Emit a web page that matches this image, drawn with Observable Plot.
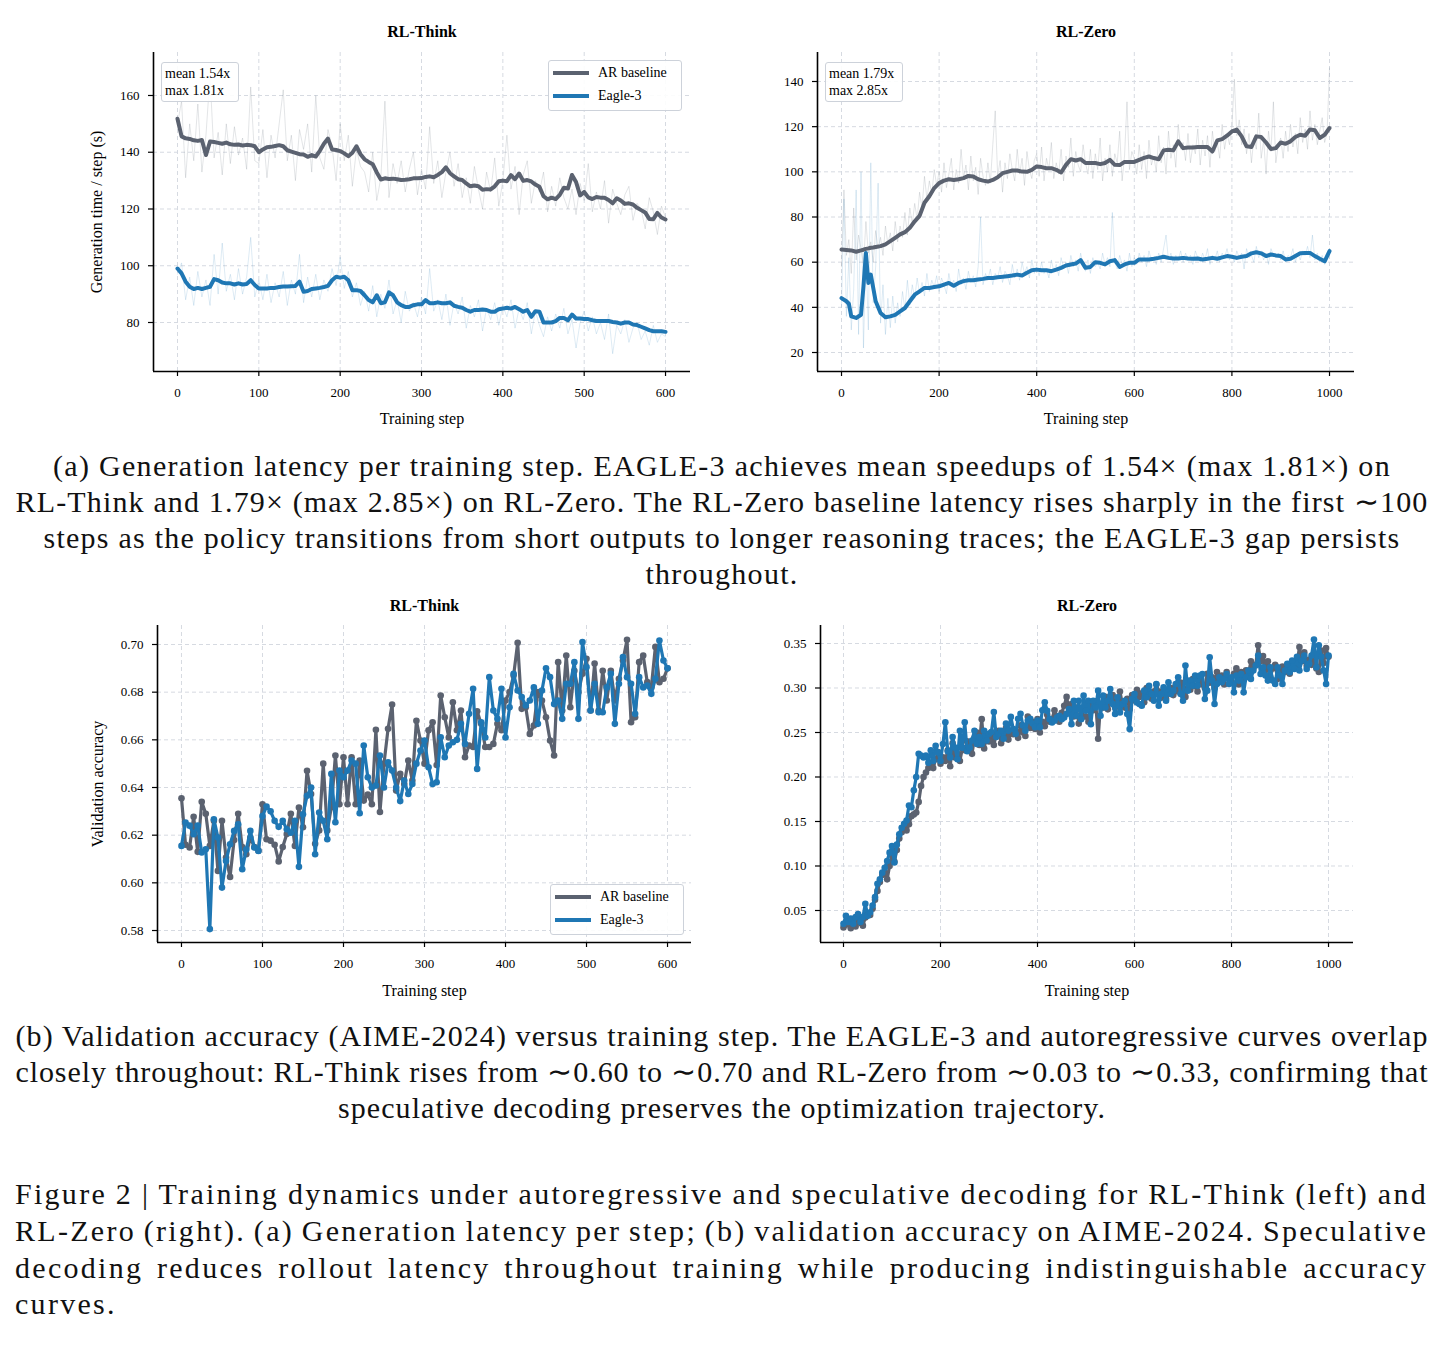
<!DOCTYPE html>
<html>
<head>
<meta charset="utf-8">
<script src="https://cdn.jsdelivr.net/npm/d3@7"></script>
<script src="https://cdn.jsdelivr.net/npm/@observablehq/plot@0.6"></script>
<style>
  body { margin: 0; background: #fff; }
  #page { position: relative; width: 1444px; height: 1347px; overflow: hidden; background: #fff; }
  .panel { position: absolute; }
  .box { position: absolute; border: 1px solid #cdd2da; border-radius: 3px; background: rgba(255,255,255,0.9);
         font-family: 'Liberation Serif', 'Times New Roman', serif; font-size: 14px; color: #000; box-sizing: border-box; }
  .box span { position: absolute; white-space: nowrap; line-height: 16px; }
  .cap { position: absolute; font-family: 'Liberation Serif', 'Times New Roman', serif; font-size: 30px;
         letter-spacing: 1.1px; line-height: 36px; white-space: nowrap; color: #111; }
  .cap span { display: inline-block; }
  .center { left: 0; width: 1444px; text-align: center; }
  .left { left: 15px; width: 1413px; text-align: left; }
</style>
</head>
<body>
<div id="page">
  <div id="latThink" class="panel" style="left:0;top:0"></div>
  <div id="latZero" class="panel" style="left:722px;top:0"></div>
  <div id="accThink" class="panel" style="left:0;top:590px"></div>
  <div id="accZero" class="panel" style="left:722px;top:590px"></div>

  <div class="cap center" style="top:448px"><span data-w="1338">(a) Generation latency per training step. EAGLE-3 achieves mean speedups of 1.54× (max 1.81×) on</span></div>
  <div class="cap center" style="top:484px"><span data-w="1413">RL-Think and 1.79× (max 2.85×) on RL-Zero. The RL-Zero baseline latency rises sharply in the first ∼100</span></div>
  <div class="cap center" style="top:520px"><span data-w="1357">steps as the policy transitions from short outputs to longer reasoning traces; the EAGLE-3 gap persists</span></div>
  <div class="cap center" style="top:556px"><span data-w="153">throughout.</span></div>

  <div class="cap center" style="top:1018px"><span data-w="1413">(b) Validation accuracy (AIME-2024) versus training step. The EAGLE-3 and autoregressive curves overlap</span></div>
  <div class="cap center" style="top:1054px"><span data-w="1413">closely throughout: RL-Think rises from ∼0.60 to ∼0.70 and RL-Zero from ∼0.03 to ∼0.33, confirming that</span></div>
  <div class="cap center" style="top:1090px"><span data-w="768">speculative decoding preserves the optimization trajectory.</span></div>

  <div class="cap left" style="top:1176px"><span data-w="1413">Figure 2 | Training dynamics under autoregressive and speculative decoding for RL-Think (left) and</span></div>
  <div class="cap left" style="top:1213px"><span data-w="1413">RL-Zero (right). (a) Generation latency per step; (b) validation accuracy on AIME-2024. Speculative</span></div>
  <div class="cap left" style="top:1250px"><span data-w="1413">decoding reduces rollout latency throughout training while producing indistinguishable accuracy</span></div>
  <div class="cap left" style="top:1286px"><span id="lastLine">curves.</span></div>
</div>

<script>
// ---------- series ----------
const seriesNames = ["AR baseline", "Eagle-3"];
const AR_COLOR = "#5b6270";
const EAGLE_COLOR = "#1f77b4";
const GRID_COLOR = "#d6dae1";

// RL-Think generation time per step (s), 5-step spacing
const thinkSteps = d3.range(0, 601, 5);
const thinkArRaw = [
  150, 158, 131, 150, 137, 157, 133, 146, 167, 138, 147, 132, 150, 136, 149, 139, 145, 134, 163, 137,
  136, 148, 131, 146, 138, 150, 162, 137, 146, 130, 148, 141, 150, 133, 160, 138, 134, 148, 142, 130,
  150, 137, 146, 128, 141, 135, 133, 126, 140, 123, 131, 158, 124, 136, 129, 137, 126, 134, 140, 125,
  134, 127, 149, 129, 137, 124, 133, 140, 128, 136, 124, 131, 122, 135, 127, 120, 133, 126, 138, 121,
  130, 146, 127, 135, 118, 132, 137, 122, 130, 126, 133, 119, 128, 121, 131, 124, 120, 127, 118, 129,
  123, 136, 119, 126, 120, 130, 115, 127, 122, 118, 125, 128, 116, 122, 120, 113, 124, 119, 111, 121, 117
];
const thinkEagleRaw = [
  97, 101, 88, 96, 86, 98, 89, 95, 86, 104, 90, 108, 91, 97, 88, 99, 90, 96, 110, 89,
  95, 88, 97, 87, 94, 89, 98, 86, 95, 90, 104, 87, 96, 89, 97, 88, 95, 91, 99, 93,
  103, 92, 98, 89, 94, 86, 91, 84, 93, 82, 90, 85, 95, 83, 88, 80, 91, 84, 87, 82,
  89, 83, 99, 84, 88, 81, 90, 79, 87, 83, 89, 78, 86, 82, 88, 77, 85, 81, 87, 79,
  86, 82, 88, 78, 85, 81, 87, 76, 84, 79, 75, 82, 77, 83, 78, 85, 76, 81, 71, 80,
  84, 77, 82, 76, 80, 74, 83, 69, 79, 76, 81, 73, 78, 80, 74, 77, 72, 79, 73, 76, 75
];
const thinkArSmooth = [
  151.8, 145.6, 144.9, 144.7, 144.2, 144.0, 144.3, 139.0, 143.8, 143.6,
  143.3, 143.0, 143.4, 142.8, 142.6, 142.7, 142.4, 142.6, 142.5, 142.1,
  140.0, 141.0, 141.8, 141.9, 142.2, 142.5, 142.1, 140.7, 140.2, 139.8,
  139.3, 139.2, 138.4, 139.0, 138.5, 140.5, 143.0, 144.8, 141.0, 140.8,
  140.4, 139.6, 138.6, 139.8, 142.1, 139.3, 137.5, 136.6, 135.8, 132.9,
  130.4, 130.8, 130.6, 130.7, 130.5, 130.2, 130.3, 130.5, 130.8, 130.8,
  130.9, 131.3, 131.5, 131.2, 132.0, 133.0, 134.7, 132.6, 131.5, 130.5,
  130.2, 129.0, 128.0, 128.3, 128.0, 126.8, 127.0, 126.9, 128.0, 129.8,
  130.0, 129.8, 131.9, 130.5, 132.5, 129.9, 130.2, 129.7, 128.6, 127.8,
  124.5, 123.4, 124.0, 123.5, 125.0, 127.5, 127.2, 132.0, 129.5, 124.8,
  126.0, 124.1, 123.5, 124.2, 124.0, 124.0, 123.2, 122.0, 123.8, 123.0,
  121.8, 122.0, 121.6, 120.4, 119.6, 118.8, 116.5, 116.4, 118.6, 117.0,
  116.3
];
const thinkEagleSmooth = [
  99.0, 97.3, 94.4, 92.6, 91.8, 92.2, 91.8, 92.2, 92.6, 95.3,
  94.9, 94.1, 93.8, 93.8, 93.4, 93.8, 93.4, 93.6, 94.9, 93.2,
  92.0, 92.0, 92.0, 92.2, 92.2, 92.5, 92.7, 92.7, 92.8, 92.9,
  94.4, 90.8, 91.1, 91.8, 92.0, 92.2, 92.5, 92.9, 94.9, 96.1,
  95.8, 96.1, 94.9, 91.4, 91.4, 91.1, 89.6, 87.9, 87.1, 89.6,
  86.8, 87.1, 90.6, 89.6, 87.1, 86.1, 85.5, 85.5, 86.1, 86.4,
  86.4, 87.9, 86.8, 86.8, 87.1, 86.8, 86.8, 87.1, 85.9, 85.5,
  85.2, 84.4, 83.8, 84.4, 84.4, 84.6, 84.4, 83.8, 83.8, 84.7,
  84.9, 85.2, 84.9, 85.5, 84.7, 83.8, 84.4, 82.0, 84.0, 83.8,
  80.0, 80.0, 80.0, 80.5, 81.6, 81.6, 80.8, 82.8, 81.4, 81.4,
  81.2, 81.2, 80.8, 80.5, 80.5, 80.5, 80.5, 80.2, 80.0, 79.6,
  80.0, 80.0, 79.3, 79.1, 78.5, 77.9, 77.3, 76.9, 76.9, 76.9,
  76.7
];

// RL-Zero generation time per step (s)
const zeroRawSteps = d3.range(0, 1001, 5);
const zeroArRaw = [
  58, 92, 63, 70, 55, 84, 61, 72, 66, 59, 78, 64, 69, 60, 74, 66, 71, 63, 76, 68,
  73, 65, 78, 69, 76, 71, 82, 72, 84, 77, 86, 79, 91, 84, 98, 88, 96, 90, 101, 94,
  100, 91, 104, 93, 99, 106, 92, 101, 95, 110, 97, 103, 92, 107, 96, 102, 90, 106, 98, 94,
  104, 95, 112, 127, 98, 105, 91, 104, 97, 108, 101, 96, 110, 99, 106, 94, 109, 101, 97, 105,
  108, 98, 111, 96, 106, 101, 113, 97, 104, 99, 110, 96, 107, 102, 115, 98, 109, 103, 100, 112,
  104, 99, 110, 97, 108, 101, 115, 96, 106, 100, 112, 98, 108, 104, 118, 96, 107, 131, 101, 109,
  106, 99, 112, 101, 109, 97, 114, 103, 107, 100, 116, 104, 111, 99, 118, 106, 112, 102, 121, 110,
  113, 105, 117, 104, 112, 108, 119, 103, 114, 107, 116, 102, 118, 109, 113, 106, 121, 110, 117, 112,
  120, 141, 116, 123, 112, 119, 108, 117, 104, 115, 110, 126, 106, 114, 99, 118, 109, 131, 104, 112,
  115, 106, 118, 109, 121, 111, 117, 108, 124, 113, 119, 110, 127, 114, 121, 112, 118, 124, 113, 117, 146
];
const zeroEagleRaw = [
  40, 88, 36, 62, 30, 48, 92, 28, 100, 22, 65, 30, 104, 42, 58, 95, 33, 50, 28, 44,
  31, 45, 33, 42, 36, 47, 39, 52, 41, 50, 44, 53, 46, 51, 45, 55, 47, 52, 49, 54,
  47, 53, 50, 46, 55, 49, 52, 47, 57, 50, 53, 48, 56, 51, 54, 49, 58, 80, 50, 55,
  52, 57, 50, 55, 53, 58, 51, 56, 54, 50, 59, 53, 57, 52, 60, 55, 58, 53, 61, 55,
  58, 54, 60, 55, 57, 53, 61, 56, 59, 54, 62, 57, 60, 55, 63, 58, 61, 56, 64, 59,
  56, 61, 55, 62, 58, 60, 57, 64, 59, 62, 58, 82, 60, 57, 63, 59, 61, 56, 64, 58,
  62, 59, 64, 60, 63, 58, 65, 61, 62, 59, 64, 60, 66, 72, 61, 64, 59, 63, 61, 65,
  60, 64, 61, 63, 59, 65, 62, 60, 64, 61, 66, 59, 63, 61, 65, 60, 64, 62, 66, 61,
  63, 60, 65, 62, 64, 57, 66, 62, 63, 60, 67, 62, 65, 61, 64, 59, 66, 63, 62, 64,
  61, 65, 60, 63, 62, 66, 60, 64, 61, 65, 63, 67, 62, 72, 61, 64, 60, 63, 59, 62, 66
];
const zeroSmoothSteps = [0, 10, 15, 20, 30, 40, 45, 50, 55, 60, 65, 70].concat(d3.range(80, 1001, 10));
const zeroArSmooth = [
  65.6, 65.4, 65.3, 65.2, 64.6, 65.2, 65.5, 65.9, 66.1, 66.4, 66.5, 66.7,
  67.1, 67.9, 69.3, 70.8, 72.3, 73.3, 75.2, 78.1, 80.5, 86.3,
  89.2, 92.8, 95.0, 96.1, 96.7, 96.4, 96.7, 97.2, 98.2, 97.9,
  96.7, 96.1, 95.7, 96.4, 97.6, 99.4, 100.0, 100.6, 100.6, 100.1,
  100.0, 100.9, 102.4, 102.1, 101.6, 101.6, 100.9, 99.7, 103.1, 105.6,
  105.0, 105.6, 103.9, 103.9, 103.9, 103.4, 103.9, 105.3, 103.1, 103.0,
  104.4, 104.4, 104.4, 105.3, 106.2, 106.8, 106.1, 105.6, 109.5, 109.8,
  109.5, 113.5, 110.5, 110.8, 110.8, 111.0, 111.0, 111.0, 109.0, 113.9,
  114.5, 116.0, 117.9, 118.7, 115.7, 111.3, 111.0, 115.7, 115.4, 113.0,
  110.1, 110.5, 113.0, 112.4, 113.5, 115.4, 116.4, 116.0, 118.7, 118.4,
  115.0, 116.4, 119.4
];
const zeroEagleSmooth = [
  44.1, 42.7, 41.6, 36.0, 35.3, 36.7, 49.3, 64.1, 50.8, 54.5, 48.6, 42.7,
  37.5, 35.6, 36.0, 36.7, 38.2, 39.7, 42.7, 45.6, 47.1, 48.6,
  48.6, 49.0, 49.3, 50.1, 50.8, 49.6, 50.8, 51.6, 52.0, 52.0,
  52.3, 52.6, 53.0, 53.0, 53.3, 53.5, 53.8, 54.1, 54.5, 54.1,
  55.3, 56.4, 56.7, 56.4, 56.4, 56.0, 56.7, 57.5, 58.5, 59.0,
  59.4, 60.9, 57.5, 57.9, 60.0, 59.7, 59.0, 60.4, 60.9, 57.9,
  59.0, 59.7, 59.7, 61.2, 61.2, 61.2, 61.5, 61.9, 62.4, 61.9,
  61.6, 61.6, 61.9, 61.6, 61.5, 61.6, 61.2, 61.5, 61.9, 61.5,
  62.1, 62.7, 62.4, 61.9, 62.4, 62.7, 63.9, 64.4, 63.9, 62.7,
  63.4, 63.0, 62.7, 61.2, 61.5, 62.7, 63.9, 64.1, 64.1, 62.7,
  61.5, 60.4, 64.9
];

// Validation accuracy (AIME-2024), every 5 steps
const thinkAccSteps = d3.range(0, 601, 5);
const thinkAccAr = [
  0.6355, 0.616, 0.6148, 0.6277, 0.613, 0.634, 0.629, 0.6155, 0.626, 0.605,
  0.626, 0.6106, 0.6025, 0.618, 0.629, 0.615, 0.612, 0.619, 0.615, 0.6135,
  0.633, 0.6183, 0.6177, 0.616, 0.609, 0.615, 0.6205, 0.629, 0.6155, 0.6316,
  0.6233, 0.647, 0.6373, 0.6164, 0.622, 0.650, 0.622, 0.6317, 0.6534, 0.633,
  0.6527, 0.633, 0.6527, 0.633, 0.6513, 0.6345, 0.637, 0.633, 0.6642, 0.6297,
  0.650, 0.6646, 0.6748, 0.6387, 0.6457, 0.6415, 0.6513, 0.6429, 0.668, 0.6597,
  0.650, 0.664, 0.6674, 0.6494, 0.6786, 0.6695, 0.661, 0.6758, 0.664, 0.6723,
  0.6527, 0.6576, 0.657, 0.672, 0.6667, 0.657, 0.657, 0.6583, 0.6667, 0.664,
  0.6765, 0.680, 0.687, 0.7007, 0.673, 0.6737, 0.6625, 0.666, 0.680, 0.6765,
  0.6695, 0.6597, 0.6534, 0.6926, 0.6723, 0.6954, 0.6737, 0.689, 0.680, 0.6877,
  0.694, 0.6723, 0.692, 0.6723, 0.689, 0.6765, 0.689, 0.6765, 0.6856, 0.6933,
  0.702, 0.6674, 0.6695, 0.6926, 0.6954, 0.6842, 0.682, 0.699, 0.6842, 0.6856,
  0.690
];
const thinkAccEagle = [
  0.6155, 0.6253, 0.624, 0.6204, 0.624, 0.6127, 0.6141, 0.5806, 0.6267, 0.619,
  0.598, 0.6092, 0.6162, 0.6218, 0.6246, 0.6057, 0.614, 0.6218, 0.6148, 0.6134,
  0.628, 0.632, 0.630, 0.626, 0.6235, 0.626, 0.6225, 0.621, 0.626, 0.6067,
  0.6288, 0.6365, 0.640, 0.612, 0.6295, 0.626, 0.6183, 0.6457, 0.6254, 0.6471,
  0.6443, 0.6471, 0.6513, 0.650, 0.6292, 0.6576, 0.6443, 0.640, 0.6408, 0.6534,
  0.640, 0.6506, 0.6471, 0.640, 0.6343, 0.6429, 0.6373, 0.6415, 0.650, 0.6555,
  0.6597, 0.6485, 0.6415, 0.6422, 0.6611, 0.6527, 0.6576, 0.659, 0.660, 0.6667,
  0.6583, 0.6709, 0.6814, 0.6478, 0.6674, 0.661, 0.6863, 0.6723, 0.6688, 0.6814,
  0.661, 0.6737, 0.6877, 0.6807, 0.678, 0.6744, 0.6765, 0.682, 0.6667, 0.6807,
  0.690, 0.6863, 0.675, 0.6765, 0.6688, 0.6835, 0.6835, 0.6926, 0.6688, 0.701,
  0.6905, 0.6723, 0.6835, 0.6716, 0.6716, 0.682, 0.6877, 0.6667, 0.6835, 0.6947,
  0.6863, 0.6835, 0.6709, 0.6863, 0.682, 0.6828, 0.6793, 0.6856, 0.7017, 0.6933,
  0.690
];
const zeroAccSteps = d3.range(0, 1001, 5);
const zeroAccAr = [
  0.031, 0.034, 0.036, 0.030, 0.038, 0.032, 0.040, 0.036, 0.033, 0.042,
  0.046, 0.045, 0.052, 0.062, 0.072, 0.082, 0.090, 0.093, 0.085, 0.100,
  0.112, 0.105, 0.118, 0.131, 0.138, 0.143, 0.140, 0.147, 0.156, 0.158,
  0.160, 0.172, 0.190, 0.200, 0.205, 0.210, 0.215, 0.210, 0.220, 0.228,
  0.215, 0.222, 0.218, 0.230, 0.212, 0.238, 0.222, 0.226, 0.218, 0.232,
  0.230, 0.240, 0.236, 0.226, 0.244, 0.250, 0.236, 0.265, 0.232, 0.245,
  0.240, 0.250, 0.236, 0.248, 0.252, 0.238, 0.246, 0.255, 0.242, 0.250,
  0.248, 0.252, 0.244, 0.258, 0.250, 0.246, 0.268, 0.255, 0.262, 0.254,
  0.265, 0.250, 0.262, 0.257, 0.270, 0.262, 0.265, 0.275, 0.268, 0.262,
  0.272, 0.280, 0.290, 0.275, 0.282, 0.268, 0.278, 0.260, 0.276, 0.268,
  0.268, 0.262, 0.280, 0.275, 0.285, 0.243, 0.282, 0.278, 0.290, 0.276,
  0.284, 0.292, 0.278, 0.285, 0.296, 0.282, 0.278, 0.288, 0.276, 0.292,
  0.286, 0.298, 0.290, 0.294, 0.284, 0.300, 0.292, 0.288, 0.296, 0.304,
  0.296, 0.289, 0.298, 0.288, 0.294, 0.300, 0.292, 0.302, 0.296, 0.306,
  0.300, 0.290, 0.308, 0.298, 0.310, 0.302, 0.296, 0.312, 0.304, 0.300,
  0.316, 0.306, 0.312, 0.300, 0.318, 0.308, 0.314, 0.304, 0.318, 0.310,
  0.306, 0.316, 0.322, 0.304, 0.318, 0.310, 0.320, 0.316, 0.330, 0.322,
  0.326, 0.348, 0.330, 0.336, 0.320, 0.330, 0.312, 0.322, 0.326, 0.310,
  0.320, 0.324, 0.318, 0.326, 0.316, 0.324, 0.330, 0.326, 0.346, 0.330,
  0.340, 0.325, 0.332, 0.326, 0.338, 0.322, 0.318, 0.342, 0.328, 0.345,
  0.335
];
const zeroAccEagle = [
  0.035, 0.044, 0.037, 0.041, 0.035, 0.0425, 0.046, 0.037, 0.0425, 0.0575,
  0.044, 0.048, 0.0556, 0.065, 0.080, 0.085, 0.0925, 0.098, 0.1056, 0.115,
  0.1225, 0.104, 0.124, 0.1355, 0.143, 0.1475, 0.151, 0.168, 0.166, 0.185,
  0.200, 0.226, 0.224, 0.222, 0.224, 0.216, 0.230, 0.218, 0.235, 0.2275,
  0.218, 0.237, 0.2615, 0.229, 0.222, 0.245, 0.233, 0.220, 0.252, 0.233,
  0.2615, 0.229, 0.233, 0.241, 0.252, 0.237, 0.245, 0.237, 0.252, 0.241,
  0.2485, 0.2505, 0.273, 0.245, 0.2485, 0.252, 0.243, 0.260, 0.252, 0.2675,
  0.254, 0.2485, 0.2655, 0.271, 0.258, 0.252, 0.2635, 0.2655, 0.260, 0.256,
  0.2635, 0.256, 0.275, 0.284, 0.2744, 0.265, 0.2613, 0.2632, 0.2669, 0.2688,
  0.265, 0.2669, 0.2707, 0.2763, 0.2594, 0.2857, 0.2688, 0.2857, 0.265, 0.2914,
  0.2744, 0.2857, 0.2594, 0.2857, 0.2782, 0.297, 0.2688, 0.2914, 0.2782, 0.2857,
  0.2989, 0.282, 0.2707, 0.2895, 0.2726, 0.282, 0.2857, 0.2707, 0.2538, 0.2876,
  0.2932, 0.2838, 0.282, 0.2801, 0.297, 0.2895, 0.3026, 0.2932, 0.2857, 0.3045,
  0.2801, 0.2932, 0.3008, 0.2857, 0.3064, 0.2932, 0.297, 0.3045, 0.312, 0.2932,
  0.2857, 0.3252, 0.297, 0.3083, 0.3026, 0.3139, 0.3026, 0.3139, 0.3158, 0.2876,
  0.297, 0.3346, 0.3083, 0.282, 0.3045, 0.312, 0.3064, 0.3102, 0.3158, 0.3045,
  0.312, 0.2951, 0.3139, 0.3083, 0.3158, 0.2951, 0.312, 0.3196, 0.3102, 0.3196,
  0.3252, 0.3365, 0.3158, 0.3233, 0.3139, 0.3083, 0.3233, 0.3083, 0.3045, 0.3233,
  0.3139, 0.3045, 0.3196, 0.3271, 0.3177, 0.3308, 0.3214, 0.335, 0.3196, 0.3308,
  0.3365, 0.3214, 0.3271, 0.3365, 0.3545, 0.3233, 0.348, 0.335, 0.3196, 0.3045,
  0.3365
];

// tick positions per axis
const thinkStepTicks = [0, 100, 200, 300, 400, 500, 600];
const zeroStepTicks = [0, 200, 400, 600, 800, 1000];
const thinkLatencyTicks = [80, 100, 120, 140, 160];
const zeroLatencyTicks = [20, 40, 60, 80, 100, 120, 140];
const thinkAccTicks = [0.58, 0.60, 0.62, 0.64, 0.66, 0.68, 0.70];
const zeroAccTicks = [0.05, 0.10, 0.15, 0.20, 0.25, 0.30, 0.35];

// ---------- helpers ----------
const rows = (steps, ar, eagle) => steps.map((step, i) => ({step, ar: ar[i], eagle: eagle[i]}));
const serif = "'Liberation Serif', 'Times New Roman', serif";

function panel(o) {
  const gridStyle = {stroke: GRID_COLOR, strokeOpacity: 1, strokeWidth: 1, strokeDasharray: "4,3"};
  return Plot.plot({
    width: 722, height: o.height,
    marginLeft: o.ml, marginRight: o.mr, marginTop: o.mt, marginBottom: o.mb,
    style: {fontFamily: serif, fontSize: "13px", color: "#000", background: "transparent", overflow: "visible"},
    x: {domain: o.xDomain},
    y: {domain: o.yDomain},
    marks: [
      Plot.gridX(o.xTicks, gridStyle),
      Plot.gridY(o.yTicks, gridStyle),
      ...o.marks,
      Plot.axisX(o.xTicks, {tickSize: 5, tickPadding: 11, label: null, stroke: "#000", strokeWidth: 1.2,
                            tickFormat: d3.format("d")}),
      Plot.axisY(o.yTicks, {tickSize: 5, tickPadding: 9, label: null, stroke: "#000", strokeWidth: 1.2,
                            tickFormat: o.yFormat}),
      Plot.ruleX([o.xDomain[0]], {stroke: "#000", strokeWidth: 1.6}),
      Plot.ruleY([o.yDomain[0]], {stroke: "#000", strokeWidth: 1.6}),
      Plot.text([o.title], {frameAnchor: "top", dy: o.titleDy, lineAnchor: "middle", fontWeight: "bold", fontSize: 16}),
      Plot.text(["Training step"], {frameAnchor: "bottom", dy: o.xLabelDy, lineAnchor: "middle", fontSize: 16}),
      o.yLabel ? Plot.text([o.yLabel], {frameAnchor: "left", dx: o.yLabelDx, rotate: -90, textAnchor: "middle",
                                        lineAnchor: "middle", fontSize: 16}) : null
    ]
  });
}

function latencyMarks(raw, smooth) {
  return [
    Plot.line(raw, {x: "step", y: "ar", stroke: AR_COLOR, strokeOpacity: 0.17, strokeWidth: 1}),
    Plot.line(raw, {x: "step", y: "eagle", stroke: EAGLE_COLOR, strokeOpacity: 0.15, strokeWidth: 1}),
    Plot.line(smooth, {x: "step", y: "ar", stroke: AR_COLOR, strokeWidth: 4, strokeLinejoin: "round"}),
    Plot.line(smooth, {x: "step", y: "eagle", stroke: EAGLE_COLOR, strokeWidth: 4, strokeLinejoin: "round"})
  ];
}

function accuracyMarks(data) {
  return [
    Plot.line(data, {x: "step", y: "ar", stroke: AR_COLOR, strokeWidth: 3.2, strokeLinejoin: "round"}),
    Plot.dot(data, {x: "step", y: "ar", fill: AR_COLOR, r: 3.3}),
    Plot.line(data, {x: "step", y: "eagle", stroke: EAGLE_COLOR, strokeWidth: 3.2, strokeLinejoin: "round"}),
    Plot.dot(data, {x: "step", y: "eagle", fill: EAGLE_COLOR, r: 3.3})
  ];
}

// ---------- panels ----------
document.getElementById("latThink").append(panel({
  height: 440, ml: 153, mr: 32, mt: 52, mb: 69,
  xDomain: [-29.5, 630.7], yDomain: [62.73, 175.15],
  xTicks: thinkStepTicks, yTicks: thinkLatencyTicks,
  title: "RL-Think", titleDy: -21, xLabelDy: 47,
  yLabel: "Generation time / step (s)", yLabelDx: -57,
  marks: latencyMarks(rows(thinkSteps, thinkArRaw, thinkEagleRaw), rows(thinkSteps, thinkArSmooth, thinkEagleSmooth))
}));

document.getElementById("latZero").append(panel({
  height: 440, ml: 95, mr: 90, mt: 52, mb: 69,
  xDomain: [-49.2, 1051.2], yDomain: [11.59, 152.84],
  xTicks: zeroStepTicks, yTicks: zeroLatencyTicks,
  title: "RL-Zero", titleDy: -21, xLabelDy: 47,
  marks: latencyMarks(rows(zeroRawSteps, zeroArRaw, zeroEagleRaw), rows(zeroSmoothSteps, zeroArSmooth, zeroEagleSmooth))
}));

document.getElementById("accThink").append(panel({
  height: 420, ml: 157, mr: 31, mt: 35, mb: 68,
  xDomain: [-29.6, 629.6], yDomain: [0.57497, 0.70797],
  xTicks: thinkStepTicks, yTicks: thinkAccTicks, yFormat: d3.format(".2f"),
  title: "RL-Think", titleDy: -20, xLabelDy: 48,
  yLabel: "Validation accuracy", yLabelDx: -60,
  marks: accuracyMarks(rows(thinkAccSteps, thinkAccAr, thinkAccEagle))
}));

document.getElementById("accZero").append(panel({
  height: 420, ml: 98, mr: 91, mt: 35, mb: 68,
  xDomain: [-47.4, 1051.5], yDomain: [0.01404, 0.37022],
  xTicks: zeroStepTicks, yTicks: zeroAccTicks, yFormat: d3.format(".2f"),
  title: "RL-Zero", titleDy: -20, xLabelDy: 48,
  marks: accuracyMarks(rows(zeroAccSteps, zeroAccAr, zeroAccEagle))
}));

// ---------- legends and speedup notes ----------
const page = document.getElementById("page");
function box(left, top, width, height) {
  const el = document.createElement("div");
  el.className = "box";
  Object.assign(el.style, {left: left + "px", top: top + "px", width: width + "px", height: height + "px"});
  page.append(el);
  return el;
}
function legend(left, top) {
  const el = box(left, top, 134, 51);
  const colors = [AR_COLOR, EAGLE_COLOR];
  seriesNames.forEach((name, i) => {
    const cy = 12 + i * 23;
    const sw = document.createElementNS("http://www.w3.org/2000/svg", "svg");
    sw.setAttribute("width", 36); sw.setAttribute("height", 6);
    Object.assign(sw.style, {position: "absolute", left: "4px", top: (cy - 3) + "px"});
    sw.innerHTML = `<line x1="0" x2="36" y1="3" y2="3" stroke="${colors[i]}" stroke-width="4"/>`;
    el.append(sw);
    const t = document.createElement("span");
    t.textContent = name;
    Object.assign(t.style, {left: "49px", top: (cy - 8) + "px"});
    el.append(t);
  });
}
function note(left, top, lines) {
  const el = box(left, top, 78, 40);
  lines.forEach((line, i) => {
    const t = document.createElement("span");
    t.textContent = line;
    Object.assign(t.style, {left: "3px", top: (3 + i * 17) + "px"});
    el.append(t);
  });
}
legend(548, 60);
legend(550, 884);
note(161, 62, ["mean 1.54x", "max 1.81x"]);
note(825, 62, ["mean 1.79x", "max 2.85x"]);

// centred caption lines: spread the letters so each line keeps its typeset width
const fitSpacing = span => {
  span.style.letterSpacing = "0px";
  span.style.wordSpacing = "0px";
  return Math.max(0, (+span.dataset.w - span.getBoundingClientRect().width) / span.textContent.length);
};
document.querySelectorAll(".center span[data-w]").forEach(span => {
  span.style.letterSpacing = fitSpacing(span).toFixed(3) + "px";
});

// justified paragraph: one letter spacing for the whole block, word gaps absorb the rest
const paraLines = [...document.querySelectorAll(".left span[data-w]")];
const paraSpacing = d3.mean(paraLines.map(fitSpacing));
paraLines.forEach(span => {
  span.style.letterSpacing = paraSpacing.toFixed(3) + "px";
  const gaps = (span.textContent.match(/ /g) || []).length;
  const extra = +span.dataset.w - span.getBoundingClientRect().width;
  span.style.wordSpacing = (extra / gaps).toFixed(3) + "px";
});
document.getElementById("lastLine").style.letterSpacing = paraSpacing.toFixed(3) + "px";
</script>
</body>
</html>
